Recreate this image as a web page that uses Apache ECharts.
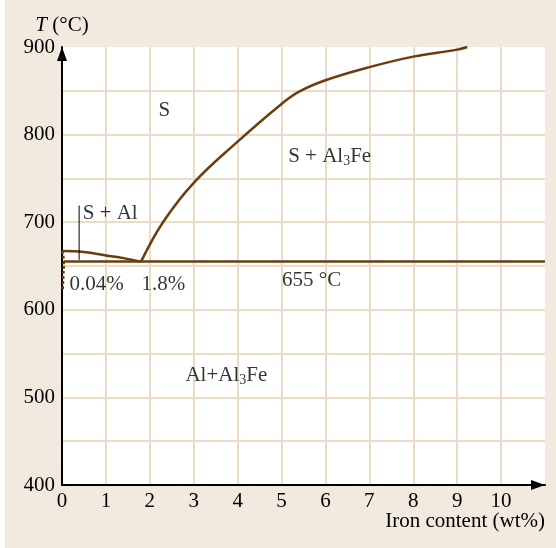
<!DOCTYPE html>
<html>
<head>
<meta charset="utf-8">
<script src="https://cdn.jsdelivr.net/npm/echarts@6/dist/echarts.min.js"></script>
<style>
  html, body { margin: 0; padding: 0; background: #ffffff; }
  #chart { width: 556px; height: 548px; }
</style>
</head>
<body>
<div id="chart"></div>
<script>
// Al–Fe phase diagram, aluminium-rich corner

// x axis tick labels (wt% Fe)
const xTicks = [0, 1, 2, 3, 4, 5, 6, 7, 8, 9, 10];
// y axis tick labels (°C)
const yTicks = [400, 500, 600, 700, 800, 900];

// liquidus on the aluminium side (S -> S + Al)
const liqAlX = [0, 0.5, 1.0, 1.4, 1.8];
const liqAlT = [667, 666, 662, 659, 655];

// liquidus on the Al3Fe side (S -> S + Al3Fe)
const liqFeX = [1.8, 2.3, 3.0, 4.0, 5.0, 5.4, 6.0, 7.0, 8.0, 9.0, 9.23];
const liqFeT = [655, 700, 745, 792, 835, 849, 862, 877, 889, 897, 900];

// eutectic isotherm
const eutX = [0.04, 11];
const eutT = [655, 655];

// solid solubility of Fe in Al (dashed)
const solvX = [0, 0.04, 0.03, 0.015];
const solvT = [667, 655, 640, 622];

// leader line into the narrow S + Al field
const leaderX = [0.39, 0.39];
const leaderT = [719, 657];

// field and point labels
const labelText = ['S', 'S + Al', 'S + Al{sub|3}Fe', '0.04%', '1.8%', '655 °C', 'Al+Al{sub|3}Fe'];
const labelX = [2.2, 0.47, 5.15, 0.17, 1.81, 5.01, 2.81];
const labelT = [827, 710, 775, 629, 629, 633, 525];

const SERIF = '"Liberation Serif", "DejaVu Serif", serif';
const BROWN = '#6b3d0c';
const GRID = '#ecdcc7';
const INK = '#000';
const FS = 21;

const zip = (xs, ys) => xs.map((x, i) => [x, ys[i]]);

const richStyle = {
  sub: { fontSize: 14, fontFamily: SERIF, color: INK, padding: [9, 0, 0, 0] }
};

const chart = echarts.init(document.getElementById('chart'), null, { renderer: 'canvas' });

chart.setOption({
  backgroundColor: '#f2eadf',
  animation: false,
  grid: {
    left: 62, right: 11, top: 47, bottom: 63,
    show: true, backgroundColor: '#ffffff', borderWidth: 0
  },
  xAxis: {
    type: 'value',
    min: 0, max: 11, interval: 1,
    axisLine: {
      lineStyle: { color: '#000', width: 2 },
      symbol: ['none', 'triangle'], symbolSize: [10, 14], symbolOffset: [0, -7]
    },
    axisTick: { show: false },
    axisLabel: {
      margin: 6,
      fontFamily: SERIF, fontSize: FS, color: INK,
      formatter: v => (xTicks.indexOf(v) >= 0 ? String(v) : '')
    },
    splitLine: { show: true, showMaxLine: false, lineStyle: { color: GRID, width: 2 } }
  },
  yAxis: {
    type: 'value',
    min: 400, max: 900, interval: 50,
    name: '{it|T} (°C)',
    nameLocation: 'end',
    nameGap: 11,
    nameTextStyle: {
      fontFamily: SERIF, fontSize: FS, color: INK,
      rich: { it: { fontFamily: SERIF, fontSize: FS, fontStyle: 'italic', color: INK } }
    },
    axisLine: {
      lineStyle: { color: '#000', width: 2 },
      symbol: ['none', 'triangle'], symbolSize: [10, 14], symbolOffset: [0, -7]
    },
    axisTick: { show: false },
    axisLabel: {
      margin: 7,
      fontFamily: SERIF, fontSize: FS, color: INK,
      formatter: v => (yTicks.indexOf(v) >= 0 ? String(v) : '')
    },
    splitLine: { show: true, showMaxLine: false, showMinLine: false, lineStyle: { color: GRID, width: 2 } }
  },
  graphic: [
    { type: 'rect', left: 0, top: 0, shape: { width: 5, height: 548 }, style: { fill: '#ffffff' }, z: -1 },
    {
      type: 'text', right: 11, top: 511,
      style: { text: 'Iron content (wt%)', font: FS + 'px ' + SERIF, fill: INK }
    }
  ],
  series: [
    {
      type: 'line', data: zip(liqAlX, liqAlT), smooth: 0.4, symbol: 'none',
      lineStyle: { color: BROWN, width: 2.5 }, z: 3
    },
    {
      type: 'line', data: zip(liqFeX, liqFeT), smooth: 0.4, symbol: 'none',
      lineStyle: { color: BROWN, width: 2.5 }, z: 3
    },
    {
      type: 'line', data: zip(eutX, eutT), symbol: 'none',
      lineStyle: { color: BROWN, width: 2.5 }, z: 3
    },
    {
      type: 'line', data: zip(solvX, solvT), smooth: 0.5, symbol: 'none',
      lineStyle: { color: BROWN, width: 2.5, type: [3, 2] }, z: 4
    },
    {
      type: 'line', data: zip(leaderX, leaderT), symbol: 'none',
      lineStyle: { color: '#000', width: 1 }, z: 3
    },
    {
      type: 'scatter',
      data: labelText.map((t, i) => ({ value: [labelX[i], labelT[i]], name: t })),
      symbolSize: 0,
      silent: true,
      label: {
        show: true, position: 'right', distance: 0,
        formatter: p => p.name,
        fontFamily: SERIF, fontSize: FS, color: INK,
        rich: richStyle
      },
      z: 5
    }
  ]
});
</script>
</body>
</html>
